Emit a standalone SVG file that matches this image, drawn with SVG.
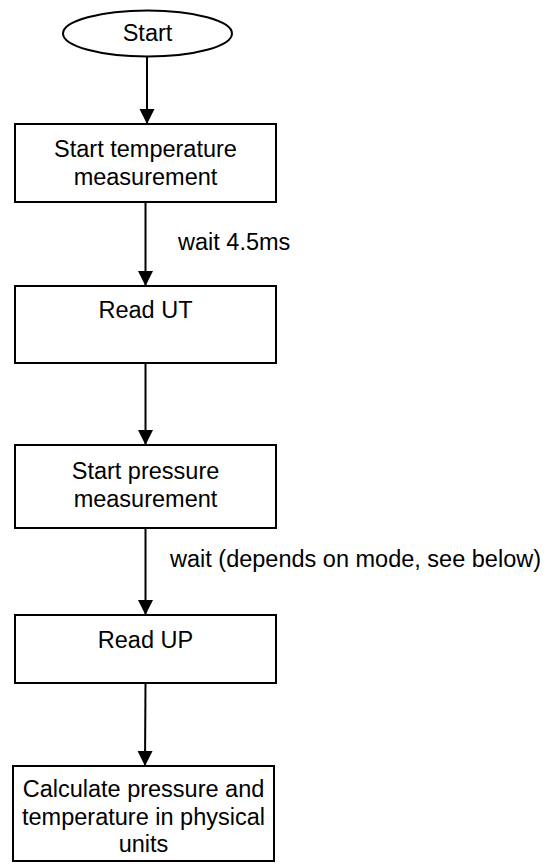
<svg xmlns="http://www.w3.org/2000/svg" width="549" height="868" viewBox="0 0 549 868">
<style>
.n{fill:#fff;stroke:#000;stroke-width:2}
.t{font-family:"Liberation Sans",Arial,sans-serif;font-size:23.5px;fill:#000;text-anchor:middle}
.l{font-family:"Liberation Sans",Arial,sans-serif;font-size:23.5px;fill:#000}
.c{stroke:#000;stroke-width:2;fill:none}
</style>
<defs>
<marker id="ah" markerUnits="userSpaceOnUse" markerWidth="16" markerHeight="16" refX="15" refY="7.5" orient="auto">
<path d="M0,0 L15,7.5 L0,15 Z" fill="#000"/>
</marker>
</defs>
<g id="connectors">
<line class="c" x1="147" y1="57" x2="147" y2="124" marker-end="url(#ah)"/>
<line class="c" x1="145.5" y1="202" x2="145.5" y2="286" marker-end="url(#ah)"/>
<line class="c" x1="145.5" y1="363" x2="145.5" y2="445" marker-end="url(#ah)"/>
<line class="c" x1="145.5" y1="528" x2="145.5" y2="615" marker-end="url(#ah)"/>
<line class="c" x1="145.5" y1="683" x2="145" y2="766" marker-end="url(#ah)"/>
<text class="l" x="178" y="250">wait 4.5ms</text>
<text class="l" x="170" y="567">wait (depends on mode, see below)</text>
</g>
<g id="start">
<ellipse class="n" cx="147.5" cy="33.5" rx="84.5" ry="23"/>
<text class="t" x="147.5" y="41">Start</text>
</g>
<g id="start-temp">
<rect class="n" x="15" y="124" width="261" height="78"/>
<text class="t" x="145.5" y="157">Start temperature</text>
<text class="t" x="145.5" y="184.5">measurement</text>
</g>
<g id="read-ut">
<rect class="n" x="15" y="286" width="261" height="77"/>
<text class="t" x="145.5" y="318">Read UT</text>
</g>
<g id="start-pressure">
<rect class="n" x="15" y="445" width="261" height="83"/>
<text class="t" x="145.5" y="479">Start pressure</text>
<text class="t" x="145.5" y="507">measurement</text>
</g>
<g id="read-up">
<rect class="n" x="15" y="615" width="261" height="68"/>
<text class="t" x="145.5" y="648">Read UP</text>
</g>
<g id="calculate">
<rect class="n" x="13" y="766" width="261" height="95"/>
<text class="t" x="143.5" y="797">Calculate pressure and</text>
<text class="t" x="143.5" y="825">temperature in physical</text>
<text class="t" x="143.5" y="852">units</text>
</g>
</svg>
